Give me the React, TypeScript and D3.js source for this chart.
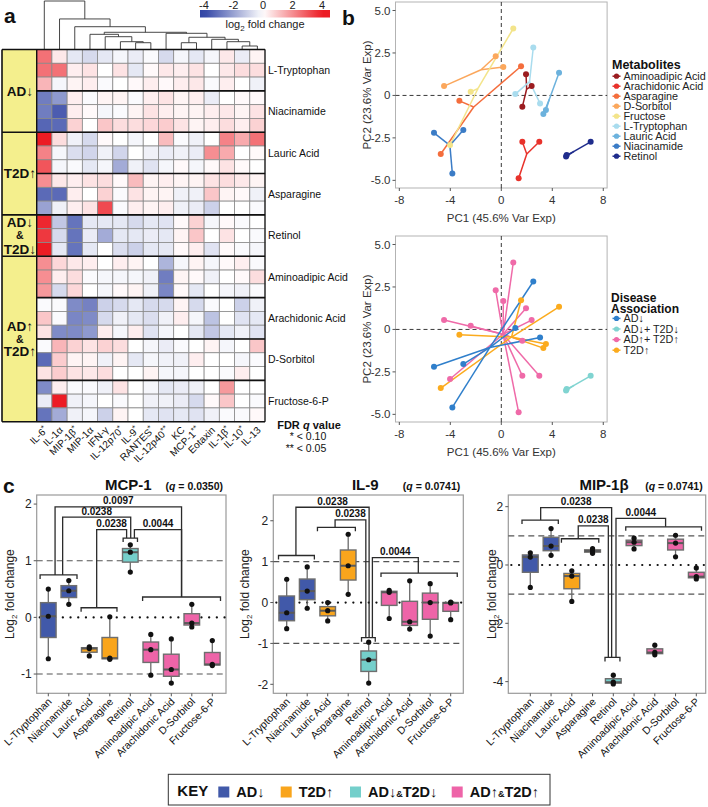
import * as d3 from 'd3';
import React from 'react';

const W = 708;
const H = 807;
const FONT = "'Liberation Sans', Arial, Helvetica, sans-serif";

// ---------- panel a: heatmap ----------
const cytokines = ['IL-6', 'IL-1α', 'MIP-1β', 'MIP-1α', 'IFN-γ', 'IL-12p70', 'IL-9', 'RANTES', 'IL-12p40', 'KC', 'MCP-1', 'Eotaxin', 'IL-1β', 'IL-10', 'IL-13'];
const cytokineStars = ['*', '', '*', '', '', '*', '*', '*', '**', '', '**', '', '*', '*', ''];
const heatMetabolites = ['L-Tryptophan', 'Niacinamide', 'Lauric Acid', 'Asparagine', 'Retinol', 'Aminoadipic Acid', 'Arachidonic Acid', 'D-Sorbitol', 'Fructose-6-P'];
const groupLabels = [['AD↓'], ['T2D↑'], ['AD↓', '&', 'T2D↓'], ['AD↑', '&', 'T2D↑']];
const groupSizes = [2, 2, 1, 4]; // metabolites per group, 3 rows each
const colorTicks = [-4, -2, 0, 2, 4];

// log2 fold change, 3 rows per metabolite, columns follow `cytokines`
const foldChange = [
  [2.5, 0.4, -0.5, -0.8, -0.5, -0.2, -0.4, -0.1, -0.8, -0.2, -0.5, -0.2, 0.4, -0.4, 0.2],
  [2.5, 2.5, 0.3, 0.5, 0, 0.5, -0.5, 0.1, 0.4, 0.3, 0.5, 0, 0.4, 0.6, 0.6],
  [1.3, -0.2, 0.2, 0.3, -0.1, 0, 0.1, 0.3, 0.1, 0.3, 0.4, -0.1, 0.3, 0, -0.3],
  [-2.8, -2.2, 0.3, -0.1, 0.2, 0.2, -0.1, 0.3, 0.5, 0.2, 0.3, -0.4, 0, 0.1, 0.1],
  [-2.8, -3.5, 0.3, 0.1, -0.2, -0.1, 0.2, 0.5, 0.3, 0.2, 0.2, 0.3, 0.4, 0.2, 0.5],
  [-3.3, -3.2, 0.8, 0, 1.0, 0.6, 0.6, 0.7, 0.9, 0.5, 0.2, 0.3, 0.6, 0.3, 0.8],
  [4, 0.6, -0.3, -0.8, 0.1, 0, -0.2, 0, 1.2, -0.1, -0.3, 0, 2.2, 1.5, 2.5],
  [2.2, -0.2, -0.7, -0.9, -0.3, -0.9, 0, -0.3, -0.4, -0.3, -0.4, 2.0, 1.5, 0, 0.1],
  [3, -0.2, -0.1, -0.5, -0.2, -1.8, -0.3, -0.6, -0.2, 0.1, -0.2, 0.1, 0.5, 0.1, 0],
  [2, 0.4, 0.3, 0.5, 0.6, 0.1, 1.2, 0.2, 0.3, 0.2, 0.2, 0.5, 0.6, 0.4, 0.2],
  [-3.2, -3.2, 0.3, 0, 0.8, -0.1, 0.5, 0.2, 0.2, -0.3, -0.3, 1.0, 0.2, 0.1, -0.3],
  [-2, -0.3, 0.3, 0.5, 3.2, -0.1, 0.3, 0.2, 0.3, -0.3, -0.4, -1.0, 0, 0, -0.1],
  [3.8, -1.2, -3.0, -0.5, -0.5, -0.5, -0.8, -0.5, -0.6, 0.1, 0.8, -0.2, 0.1, -0.1, 0],
  [3.5, -0.8, -3.0, -0.4, -1.8, -0.5, -0.5, -0.4, -0.5, 0.2, 1.0, 0, 0.5, 0, -0.1],
  [4, -0.5, -3.0, -0.5, 0, -0.7, -1.0, -0.5, -0.5, 0.1, 0.3, -0.6, 0.1, -0.1, -0.2],
  [2, 0.7, 0.4, 0.3, 0, 0.3, 0.2, 0, -1.6, -0.2, 0.2, -0.2, 0.1, 0.3, -0.1],
  [2, 0.3, 0.6, -0.1, -0.2, -0.2, -0.2, -0.3, -2.8, 0.2, 0.1, -0.3, 0, 0.1, 0.6],
  [1.8, -0.8, 0.7, 0, -0.2, 0.1, 0.2, -0.3, -2.6, 0.1, -0.5, 0, -0.2, -0.3, -0.1],
  [-0.1, -0.1, -2.5, -2.7, -1.0, -0.8, -0.5, -0.8, -0.8, 0.2, -0.8, -0.1, 0, -1.0, -0.3],
  [1.0, -0.1, -2.6, -2.5, -0.8, -0.3, -0.5, -0.7, -0.3, 0.3, -0.2, -1.3, 0, -0.6, -0.5],
  [0.5, -2.5, -2.5, -2.2, 0.3, -0.2, 0.3, -0.6, -0.2, 0, -0.5, -1.2, -0.5, -0.3, -0.6],
  [-0.1, 1.3, 0.8, 0.5, 0.8, 0.6, 0, -0.2, -0.4, -0.1, 0, 0.2, -0.2, 0, 1.0],
  [-3.2, 0.9, 0.2, 0.2, -0.3, 0.2, -0.5, -0.2, -0.3, -0.3, 0.3, 0, 0, -0.2, -0.1],
  [0.5, 0.9, 0.5, 0.4, 0.6, 0, 0, 0.2, -0.2, -0.2, 0, 0, -0.1, 0.3, 0],
  [-2.5, 0.3, -0.1, -0.1, -0.3, 0.5, 0, -0.2, -0.5, -0.4, -0.3, 0, 1.8, 0, 0],
  [-0.4, 4, -0.3, -0.2, 0, -0.1, 0, -0.3, -0.3, -0.4, -0.8, 0.1, 1.0, 0, -0.1],
  [-3.0, -1.8, -0.3, -0.2, -1.0, 0.2, 0, -0.5, -0.6, -0.5, -0.6, -0.3, -0.1, -0.1, 0.1],
];

// column clustering: merge height h, children c
type DNode = { h: number; c: (DNode | string)[] };
const dendro: DNode = {
  h: 10, c: ['IL-6', { h: 6.3, c: ['IL-1α', { h: 4.7, c: ['MIP-1β', { h: 3.55, c: [
    { h: 3.13, c: ['MIP-1α', { h: 2.64, c: ['IFN-γ', { h: 1.61, c: ['IL-12p70', { h: 1.4, c: ['IL-9', 'RANTES'] }] }] }] },
    { h: 3.34, c: ['IL-12p40', { h: 2.52, c: [
      { h: 1.4, c: ['KC', 'MCP-1'] },
      { h: 2.1, c: ['Eotaxin', { h: 1.61, c: ['IL-1β', { h: 0.72, c: ['IL-10', 'IL-13'] }] }] },
    ] }] },
  ] }] }] }],
};

// ---------- panel b: PCA ----------
const pcaMetabolites = ['Aminoadipic Acid', 'Arachidonic Acid', 'Asparagine', 'D-Sorbitol', 'Fructose', 'L-Tryptophan', 'Lauric Acid', 'Niacinamide', 'Retinol'];
const pcaColors = ['#9b1c20', '#e8322b', '#f46d3c', '#fba75c', '#f3e48a', '#a9dcee', '#6cb2dd', '#3b7cc6', '#1f2c8c'];
const pc1 = [[1.94, 2.38, 1.65], [1.65, 2.98, 1.36], [-3.29, -4.75, 1.55], [-4.49, -0.44, 0.16], [0.94, -2.4, -4.02], [2.51, 1.1, 3.04], [4.53, 3.5, 3.3], [-5.28, -2.98, -3.84], [7.01, 5.13, 5.08]];
const pc2 = [[1.25, 0.55, -0.67], [-2.73, -2.73, -4.88], [-0.32, -3.45, 1.72], [0.55, 2.31, 1.68], [3.94, 0.21, -2.92], [2.82, 0.08, -0.47], [1.33, -0.86, -1.1], [-2.2, -2.04, -4.59], [-2.73, -3.51, -3.6]];
const diseaseLabels = ['AD↓', 'AD↓+ T2D↓', 'AD↑+ T2D↑', 'T2D↑'];
const diseaseColors = ['#2f7fcb', '#80d4d1', '#ef6aa8', '#fbab1e'];
const pcaDisease = [2, 2, 3, 2, 2, 0, 3, 0, 1];
const pcXTicks = [-8, -4, 0, 4, 8];
const pcYTicks = [-5, -2.5, 0, 2.5, 5];
const pcYTickLabels = ['-5.0', '-2.5', '0', '2.5', '5.0'];

// ---------- panel c: boxplots ----------
const boxCategories = ['L-Tryptophan', 'Niacinamide', 'Lauric Acid', 'Asparagine', 'Retinol', 'Aminoadipic Acid', 'Arachidonic Acid', 'D-Sorbitol', 'Fructose-6-P'];
const boxGroup = [0, 0, 1, 1, 2, 3, 3, 3, 3];
const keyLabels = [['AD↓'], ['T2D↑'], ['AD↓', '&', 'T2D↓'], ['AD↑', '&', 'T2D↑']];
const keyColors = ['#4159a9', '#f9a51c', '#74cfcb', '#ee64a8'];

const mcp1Values = [[0.5, 0.02, -0.73], [0.65, 0.47, 0.23], [-0.52, -0.55, -0.68], [0.01, -0.72, -0.74], [1.28, 1.15, 0.8], [-0.3, -0.57, -1.02], [-0.38, -0.92, -1.16], [0.23, -0.1, -0.17], [-0.41, -0.83, -0.85]];
const il9Values = [[0.57, -0.25, -0.64], [0.87, 0.28, -0.14], [0.0, -0.2, -0.45], [1.67, 0.9, 0.2], [-0.97, -1.4, -1.97], [0.3, 0.25, -0.39], [0.53, -0.47, -0.65], [0.46, 0.0, -0.82], [0.01, -0.01, -0.42]];
const mip1bValues = [[0.42, 0.27, -0.77], [1.25, 0.65, 0.33], [-0.2, -0.38, -1.25], [0.56, 0.48, 0.4], [-3.78, -4.02, -4.08], [0.92, 0.78, 0.55], [-2.75, -3.0, -3.08], [1.02, 0.75, 0.28], [-0.1, -0.4, -0.48]];

// group brackets: [from index, to index, level]
const mcp1Brackets = [[-0.4, 1.4, 0.75], [1.6, 3.35, 0.17], [3.65, 4.35, 1.4], [4.6, 8.4, 0.36]];
const il9Brackets = [[-0.4, 1.35, 1.15], [1.5, 3.35, 1.84], [3.65, 4.32, -0.86], [4.6, 8.32, 0.72]];
const mip1bBrackets = [[-0.4, 1.35, 1.54], [1.5, 3.3, 0.9], [3.6, 4.32, -3.17], [4.6, 8.25, 1.31]];
// comparisons: [p label, x1 index, x2 index, level, left bracket, right bracket]
const mcp1Comps: [string, number, number, number, number, number][] = [
  ['0.0097', 0.33, 6.5, 1.95, 0, 3], ['0.0238', 0.7, 4.02, 1.77, 0, 2],
  ['0.0238', 2.36, 3.82, 1.55, 1, 2], ['0.0044', 4.2, 6.5, 1.55, 2, 3]];
const il9Comps: [string, number, number, number, number, number][] = [
  ['0.0238', 0.45, 4.02, 2.33, 0, 2], ['0.0238', 2.36, 3.86, 2.02, 1, 2], ['0.0044', 4.18, 6.42, 1.1, 2, 3]];
const mip1bComps: [string, number, number, number, number, number][] = [
  ['0.0238', 0.5, 3.92, 1.97, 0, 2], ['0.0238', 2.31, 3.76, 1.34, 1, 2], ['0.0044', 4.13, 6.52, 1.6, 2, 3]];

const heatColor = d3.scaleLinear<string>().domain([-4, 0, 4]).range(['#3245a5', '#ffffff', '#ec1c24']).clamp(true);

function Heatmap() {
  const x0 = 36.7, x1 = 265, y0 = 49.5, y1 = 421.7, gx = 2;
  const xs = d3.scaleBand<string>().domain(cytokines).range([x0, x1]);
  const ys = d3.scaleBand<number>().domain(foldChange.map((_, i) => i)).range([y0, y1]);
  const bw = xs.bandwidth();
  const bh = ys.bandwidth();

  // dendrogram
  const dy = d3.scaleLinear().domain([0, 10]).range([y0, 1]);
  const segs: number[][] = [];
  const lay = (n: DNode | string): { x: number; y: number } => {
    if (typeof n === 'string') return { x: (xs(n) as number) + bw / 2, y: y0 };
    const kids = n.c.map(lay);
    const y = dy(n.h);
    kids.forEach((k) => segs.push([k.x, k.y, k.x, y]));
    segs.push([kids[0].x, y, kids[kids.length - 1].x, y]);
    return { x: (kids[0].x + kids[kids.length - 1].x) / 2, y };
  };
  lay(dendro);

  const groupStarts: number[] = [];
  let acc = 0;
  groupSizes.forEach((g) => { groupStarts.push(acc); acc += g * 3; });

  // colour bar
  const cb = d3.scaleLinear().domain([-4, 4]).range([204, 322]);
  const stops = d3.range(0, 1.0001, 0.05).map((t) => ({ t, c: heatColor(cb.invert(200 + t * 130)) }));

  return (
    <g>
      <defs>
        <linearGradient id="cbar" x1="0" x2="1" y1="0" y2="0">
          {stops.map((s, i) => <stop key={i} offset={s.t} stopColor={s.c} />)}
        </linearGradient>
      </defs>
      {segs.map((s, i) => (
        <line key={i} x1={s[0]} y1={s[1]} x2={s[2]} y2={s[3]} stroke="#333" strokeWidth={0.9} />
      ))}
      <rect x={200} y={10} width={130} height={7.5} fill="url(#cbar)" />
      {colorTicks.map((t) => (
        <text key={t} x={cb(t)} y={9} fontSize={11} textAnchor="middle" fill="#222">{t}</text>
      ))}
      <text x={265} y={28} fontSize={11} textAnchor="middle" fill="#222">
        log<tspan fontSize={8} dy={3}>2</tspan><tspan dy={-3}> fold change</tspan>
      </text>

      <rect x={gx} y={y0} width={x0 - gx} height={y1 - y0} fill="#f4ef8d" />
      {foldChange.map((row, r) =>
        row.map((v, c) => (
          <rect key={`${r}-${c}`} x={xs(cytokines[c])} y={ys(r)} width={bw} height={bh}
            fill={heatColor(v)} stroke="#8a8a8a" strokeWidth={0.8} />
        ))
      )}
      {d3.range(heatMetabolites.length + 1).map((k) => {
        const y = y0 + k * 3 * bh;
        const isGroup = groupStarts.includes(k * 3) || k === heatMetabolites.length;
        return <line key={k} x1={isGroup ? gx : x0} x2={x1} y1={y} y2={y} stroke="#111" strokeWidth={1.6} />;
      })}
      <line x1={gx} x2={gx} y1={y0} y2={y1} stroke="#111" strokeWidth={1.6} />
      <line x1={x0} x2={x0} y1={y0} y2={y1} stroke="#111" strokeWidth={1.4} />
      <line x1={x1} x2={x1} y1={y0} y2={y1} stroke="#111" strokeWidth={1.2} />

      {groupLabels.map((lines, g) => {
        const top = y0 + groupStarts[g] * bh;
        const cy = top + (groupSizes[g] * 3 * bh) / 2;
        const gap = g === 2 ? 13.5 : 12.5;
        return lines.map((t, i) => (
          <text key={`${g}-${i}`} x={(gx + x0) / 2 + 0.5} y={cy + (i - (lines.length - 1) / 2) * gap}
            dy="0.36em" fontSize={t === '&' ? 10.5 : 13.5} fontWeight="bold" textAnchor="middle" fill="#111">{t}</text>
        ));
      })}

      {heatMetabolites.map((m, k) => (
        <text key={m} x={x1 + 3} y={(ys(k * 3 + 1) as number) + bh / 2} dy="0.35em" fontSize={10.5} fill="#111">{m}</text>
      ))}

      {cytokines.map((c, i) => {
        const cx = (xs(c) as number) + bw / 2;
        return (
          <text key={c} transform={`translate(${cx + 4},${y1 + 9}) rotate(-45)`} textAnchor="end" fontSize={10} fill="#111">
            {c}
            {cytokineStars[i] ? <tspan fontSize={8} dy={-3}>{cytokineStars[i]}</tspan> : null}
          </text>
        );
      })}

      <text x={309} y={428.5} fontSize={11} fontWeight="bold" textAnchor="middle" fill="#111">
        FDR <tspan fontStyle="italic">q</tspan> value
      </text>
      <text x={308} y={440} fontSize={10.5} textAnchor="middle" fill="#111">{'* < 0.10'}</text>
      <text x={306} y={452} fontSize={10.5} textAnchor="middle" fill="#111">{'** < 0.05'}</text>
    </g>
  );
}

function PcaPanel({ top, mode }: { top: number; mode: 'met' | 'dis' }) {
  const bx0 = 395.5, bx1 = 607.1, by0 = top, by1 = top + 186;
  const xs = d3.scaleLinear().domain([-8.3, 8.3]).range([bx0, bx1]);
  const ys = d3.scaleLinear().domain([-5.45, 5.5]).range([by1, by0]);
  const groupOf = (m: number) => (mode === 'met' ? m : pcaDisease[m]);
  const colorOf = (g: number) => (mode === 'met' ? pcaColors[g] : diseaseColors[g]);
  const idx = pcaMetabolites.map((_, m) => m);
  const groups = d3.group(idx, groupOf);

  const lines: { g: number; cx: number; cy: number; x: number; y: number }[] = [];
  const pts: { g: number; x: number; y: number }[] = [];
  groups.forEach((ms, g) => {
    const cx = d3.mean(ms.flatMap((m) => pc1[m])) as number;
    const cy = d3.mean(ms.flatMap((m) => pc2[m])) as number;
    ms.forEach((m) => pc1[m].forEach((v, j) => {
      lines.push({ g, cx, cy, x: v, y: pc2[m][j] });
      pts.push({ g, x: v, y: pc2[m][j] });
    }));
  });

  const legendX = 612.5;
  const items = mode === 'met' ? pcaMetabolites : diseaseLabels;
  const itemColors = mode === 'met' ? pcaColors : diseaseColors;
  const firstY = mode === 'met' ? top + 78 : top + 86.2;
  const stepY = mode === 'met' ? 10 : 10.6;

  return (
    <g>
      <rect x={bx0} y={by0} width={bx1 - bx0} height={by1 - by0} fill="#fff" stroke="#b3b3b3" strokeWidth={1} />
      <line x1={xs(0)} x2={xs(0)} y1={by0} y2={by1} stroke="#222" strokeDasharray="4,3" strokeWidth={0.9} />
      <line x1={bx0} x2={bx1} y1={ys(0)} y2={ys(0)} stroke="#222" strokeDasharray="4,3" strokeWidth={0.9} />
      {lines.map((l, i) => (
        <line key={i} x1={xs(l.cx)} y1={ys(l.cy)} x2={xs(l.x)} y2={ys(l.y)} stroke={colorOf(l.g)} strokeWidth={1.5} />
      ))}
      {pts.map((p, i) => (
        <circle key={i} cx={xs(p.x)} cy={ys(p.y)} r={3} fill={colorOf(p.g)} />
      ))}
      {pcXTicks.map((t) => (
        <g key={t}>
          <line x1={xs(t)} x2={xs(t)} y1={by1} y2={by1 + 3} stroke="#555" />
          <text x={xs(t)} y={by1 + 16} fontSize={11.5} textAnchor="middle" fill="#333">{t}</text>
        </g>
      ))}
      {pcYTicks.map((t, i) => (
        <g key={t}>
          <line x1={bx0 - 3} x2={bx0} y1={ys(t)} y2={ys(t)} stroke="#555" />
          <text x={bx0 - 5} y={ys(t)} dy="0.35em" fontSize={11.5} textAnchor="end" fill="#333">{pcYTickLabels[i]}</text>
        </g>
      ))}
      <text x={(bx0 + bx1) / 2} y={by1 + 34} fontSize={11.5} textAnchor="middle" fill="#333">PC1 (45.6% Var Exp)</text>
      <text transform={`translate(371,${(by0 + by1) / 2}) rotate(-90)`} fontSize={11.5} textAnchor="middle" fill="#333">PC2 (23.6% Var Exp)</text>

      {mode === 'met' ? (
        <text x={legendX - 0.5} y={top + 67.3} fontSize={12.5} fontWeight="bold" fill="#111">Metabolites</text>
      ) : (
        <g>
          <text x={legendX - 1.5} y={top + 66} fontSize={12} fontWeight="bold" fill="#111">Disease</text>
          <text x={legendX - 1.5} y={top + 76.5} fontSize={12} fontWeight="bold" fill="#111">Association</text>
        </g>
      )}
      {items.map((name, i) => {
        const y = firstY + i * stepY;
        return (
          <g key={name}>
            <line x1={legendX} x2={legendX + 8} y1={y - 3.8} y2={y - 3.8} stroke={itemColors[i]} strokeWidth={1.5} />
            <circle cx={legendX + 4} cy={y - 3.8} r={2.6} fill={itemColors[i]} />
            <text x={legendX + 11} y={y} fontSize={10.8} fill="#222">{name}</text>
          </g>
        );
      })}
    </g>
  );
}

type BoxProps = {
  title: string;
  q: string;
  values: number[][];
  box: [number, number];
  centers: [number, number];
  yDomain: [number, number];
  yTicks: number[];
  brackets: number[][];
  comps: [string, number, number, number, number, number][];
  yLabelX: number;
};

function BoxPanel({ title, q, values, box, centers, yDomain, yTicks, brackets, comps, yLabelX }: BoxProps) {
  const top = 495, bottom = 693.3;
  const xs = d3.scalePoint<string>().domain(boxCategories).range(centers);
  const xi = d3.scaleLinear().domain([0, boxCategories.length - 1]).range(centers);
  const ys = d3.scaleLinear().domain(yDomain).range([bottom, top]);
  const bw = xs.step() * 0.76;
  const stats = values.map((v) => {
    const s = [...v].sort(d3.ascending);
    return {
      min: s[0], max: s[s.length - 1],
      q1: d3.quantile(s, 0.25) as number, med: d3.quantile(s, 0.5) as number, q3: d3.quantile(s, 0.75) as number,
    };
  });
  const lineCol = '#2b2b2b';
  return (
    <g>
      <rect x={box[0]} y={top} width={box[1] - box[0]} height={bottom - top} fill="#fff" stroke="#9a9a9a" strokeWidth={1.2} />
      {[1, -1].map((v) => (
        <line key={v} x1={box[0]} x2={box[1]} y1={ys(v)} y2={ys(v)} stroke="#555" strokeWidth={1.1} strokeDasharray="6,4" />
      ))}
      <line x1={box[0] + 3} x2={box[1]} y1={ys(0)} y2={ys(0)} stroke="#111" strokeWidth={2.2} strokeDasharray="0.1,7.6" strokeLinecap="round" />

      {stats.map((s, i) => {
        const cx = xs(boxCategories[i]) as number;
        return (
          <g key={i}>
            <line x1={cx} x2={cx} y1={ys(s.max)} y2={ys(s.min)} stroke="#6b6b6b" strokeWidth={1.3} />
            <rect x={cx - bw / 2} y={ys(s.q3)} width={bw} height={Math.max(ys(s.q1) - ys(s.q3), 0.5)}
              fill={keyColors[boxGroup[i]]} stroke="#6e6e6e" strokeWidth={1.4} />
            <line x1={cx - bw / 2} x2={cx + bw / 2} y1={ys(s.med)} y2={ys(s.med)} stroke="#5a5a5a" strokeWidth={2} />
            {values[i].map((v, j) => (
              <circle key={j} cx={cx} cy={ys(v)} r={2.6} fill="#111" />
            ))}
          </g>
        );
      })}

      {brackets.map((b, i) => (
        <path key={i} d={`M${xi(b[0])},${ys(b[2]) + 4}V${ys(b[2])}H${xi(b[1])}V${ys(b[2]) + 4}`}
          fill="none" stroke={lineCol} strokeWidth={1.3} />
      ))}
      {comps.map((c, i) => {
        const xa = xi(c[1]), xb = xi(c[2]), y = ys(c[3]);
        return (
          <g key={i}>
            <path d={`M${xa},${ys(brackets[c[4]][2])}V${y}H${xb}V${ys(brackets[c[5]][2])}`}
              fill="none" stroke={lineCol} strokeWidth={1.3} />
            <text x={(xa + xb) / 2} y={y - 2.5} fontSize={10} fontWeight="bold" textAnchor="middle" fill="#111">{c[0]}</text>
          </g>
        );
      })}

      {yTicks.map((t) => (
        <g key={t}>
          <line x1={box[0] - 3} x2={box[0]} y1={ys(t)} y2={ys(t)} stroke="#555" />
          <text x={box[0] - 5} y={ys(t)} dy="0.35em" fontSize={12} textAnchor="end" fill="#222">{t}</text>
        </g>
      ))}
      {boxCategories.map((c) => {
        const cx = xs(c) as number;
        return (
          <g key={c}>
            <line x1={cx} x2={cx} y1={bottom} y2={bottom + 3} stroke="#555" />
            <text transform={`translate(${cx + 4},${bottom + 9}) rotate(-45)`} textAnchor="end" fontSize={10.5} fill="#111">{c}</text>
          </g>
        );
      })}
      <text transform={`translate(${yLabelX},${(top + bottom) / 2}) rotate(-90)`} textAnchor="middle" fontSize={12} fill="#222">
        Log<tspan fontSize={8} dy={3}>2</tspan><tspan dy={-3}> fold change</tspan>
      </text>
      <text x={(box[0] + box[1]) / 2 - 3} y={490} fontSize={15} fontWeight="bold" textAnchor="middle" fill="#111">{title}</text>
      <text x={box[1] - 3} y={490} fontSize={10.5} fontWeight="bold" textAnchor="end" fill="#111">
        (<tspan fontStyle="italic">q</tspan>{` = ${q})`}
      </text>
    </g>
  );
}

function Key() {
  const xsq = [218.3, 280.7, 350, 451.7];
  return (
    <g>
      <rect x={168.3} y={774.3} width={381.7} height={30.7} fill="#fff" stroke="#333" strokeWidth={1} />
      <text x={177.3} y={796} fontSize={15} fontWeight="bold" fill="#111">KEY</text>
      {keyLabels.map((parts, i) => (
        <g key={i}>
          <rect x={xsq[i]} y={786.5} width={11} height={11} fill={keyColors[i]} />
          <text x={xsq[i] + 18} y={797} fontSize={14.5} fontWeight="bold" fill="#111">
            {parts.map((p, j) => (
              <tspan key={j} fontSize={p === '&' ? 9 : 14.5}>{p}</tspan>
            ))}
          </text>
        </g>
      ))}
    </g>
  );
}

export default function App() {
  return (
    <div style={{ position: 'absolute', left: 0, top: 0, width: W, height: H, background: '#fff' }}>
      <svg width={W} height={H} viewBox={`0 0 ${W} ${H}`} style={{ display: 'block', fontFamily: FONT }}>
        <rect width={W} height={H} fill="#fff" />
        <Heatmap />
        <PcaPanel top={2} mode="met" />
        <PcaPanel top={236} mode="dis" />
        <BoxPanel title="MCP-1" q="0.0350" values={mcp1Values} box={[36.7, 226]} centers={[48.3, 212.3]}
          yDomain={[-1.34, 2.16]} yTicks={[-1, 0, 1, 2]} brackets={mcp1Brackets} comps={mcp1Comps} yLabelX={14} />
        <BoxPanel title="IL-9" q="0.0741" values={il9Values} box={[273.3, 463.3]} centers={[286.7, 450.7]}
          yDomain={[-2.22, 2.63]} yTicks={[-2, -1, 0, 1, 2]} brackets={il9Brackets} comps={il9Comps} yLabelX={249} />
        <BoxPanel title="MIP-1β" q="0.0741" values={mip1bValues} box={[508.3, 705.7]} centers={[530.3, 696.3]}
          yDomain={[-4.4, 2.4]} yTicks={[-4, -2, 0, 2]} brackets={mip1bBrackets} comps={mip1bComps} yLabelX={496} />
        <Key />
        <text x={4} y={23} fontSize={21} fontWeight="bold" fill="#111">a</text>
        <text x={342} y={25} fontSize={21} fontWeight="bold" fill="#111">b</text>
        <text x={3} y={493} fontSize={21} fontWeight="bold" fill="#111">c</text>
      </svg>
    </div>
  );
}
